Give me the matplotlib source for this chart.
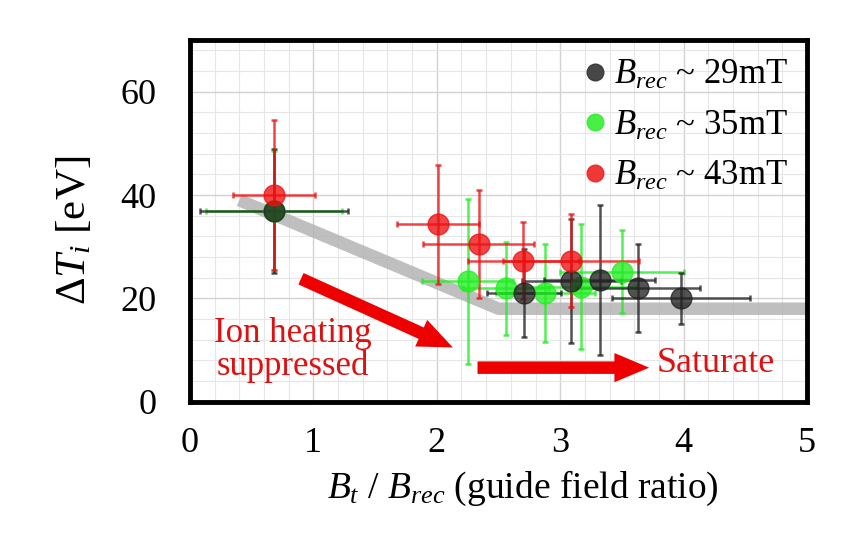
import numpy as np
import matplotlib
matplotlib.use("Agg")
import matplotlib.pyplot as plt
from matplotlib.ticker import MultipleLocator

plt.rcParams['font.family'] = ['Liberation Serif', 'DejaVu Serif']
plt.rcParams['mathtext.fontset'] = 'custom'
plt.rcParams['mathtext.rm'] = 'Liberation Serif'
plt.rcParams['mathtext.it'] = 'Liberation Serif:italic'
plt.rcParams['mathtext.bf'] = 'Liberation Serif:bold'

# data
black_x = [0.68, 2.71, 3.09, 3.32, 3.63, 3.98]
black_y = [37.0, 21.0, 23.3, 23.6, 22.0, 20.0]
black_xerr = [0.60, 0.30, 0.40, 0.45, 0.50, 0.56]
black_yerr = [12.0, 8.5, 12.0, 14.5, 8.5, 5.0]

green_x = [0.68, 2.25, 2.56, 2.88, 3.17, 3.50]
green_y = [37.0, 23.3, 22.0, 21.0, 22.3, 25.2]
green_xerr = [0.55, 0.37, 0.35, 0.40, 0.45, 0.50]
green_yerr = [11.5, 16.0, 9.0, 9.5, 12.0, 8.0]

red_x = [0.68, 2.01, 2.34, 2.70, 3.09]
red_y = [40.0, 34.3, 30.5, 27.3, 27.3]
red_xerr = [0.33, 0.33, 0.45, 0.45, 0.55]
red_yerr = [14.5, 11.5, 10.4, 7.5, 9.0]

labels = [r'$B_{rec}$ ~ 29mT', r'$B_{rec}$ ~ 35mT', r'$B_{rec}$ ~ 43mT']

trend_x = [0.4, 2.5, 5.0]
trend_y = [39.0, 18.0, 18.0]

fig = plt.figure(figsize=(8.67, 5.4), dpi=100)
ax = fig.add_axes([0.219, 0.256, 0.712, 0.670])
ax.set_xlim(0, 5)
ax.set_ylim(0, 70)

# grid
ax.xaxis.set_major_locator(MultipleLocator(1))
ax.yaxis.set_major_locator(MultipleLocator(20))
ax.xaxis.set_minor_locator(MultipleLocator(0.2))
ax.yaxis.set_minor_locator(MultipleLocator(4))
ax.grid(which='minor', color='#e6e6e6', lw=0.8)
ax.grid(which='major', color='#d2d2d2', lw=1.0)
ax.set_axisbelow(True)
ax.tick_params(which='both', length=0, labelsize=26)
ax.tick_params(axis='y', pad=24)
ax.tick_params(axis='x', pad=18)

# trend line
ax.plot(trend_x, trend_y, color='#b4b4b4', lw=9, alpha=0.85,
        solid_capstyle='butt', solid_joinstyle='round', zorder=1)

ekw = dict(fmt='o', ms=15, elinewidth=1.8, capsize=2.5, capthick=1.8,
           alpha=0.78, zorder=3)
ax.errorbar(green_x, green_y, xerr=green_xerr, yerr=green_yerr,
            color='#22ee22', **ekw)
ax.errorbar(black_x, black_y, xerr=black_xerr, yerr=black_yerr,
            color='#222222', **ekw)
ax.errorbar(red_x, red_y, xerr=red_xerr, yerr=red_yerr,
            color='#ee1111', **ekw)

# legend
for c, lab in zip(['#333333', '#33ee33', '#ee2222'], labels):
    ax.plot([], [], 'o', ms=12, color=c, alpha=0.9, label=lab)
ax.legend(loc='upper right', frameon=False, fontsize=25, handlelength=0.5,
          handletextpad=0.3, labelspacing=0.5, borderaxespad=0.35,
          borderpad=0.2)

# arrows and annotations
astyle = 'simple,head_width=1.05,head_length=1.25,tail_width=0.45'
ax.annotate('', xy=(2.13, 10.5), xytext=(0.9, 23.8),
            arrowprops=dict(arrowstyle=astyle, color='#ee0000', lw=0,
                            mutation_scale=20, shrinkA=0, shrinkB=0))
ax.annotate('', xy=(3.72, 6.6), xytext=(2.33, 6.6),
            arrowprops=dict(arrowstyle=astyle, color='#ee0000', lw=0,
                            mutation_scale=20, shrinkA=0, shrinkB=0))
ax.text(0.83, 10.0, 'Ion heating\nsuppressed', color='#dd1111', fontsize=25,
        ha='center', va='center', linespacing=0.95)
ax.text(4.26, 7.4, 'Saturate', color='#dd1111', fontsize=26,
        ha='center', va='center')

for s in ax.spines.values():
    s.set_linewidth(3.5)

ax.set_xlabel(r'$B_t$ / $B_{rec}$ (guide field ratio)', fontsize=27)
ax.xaxis.set_label_coords(0.54, -0.185)
ax.set_ylabel(r'$\mathit{\Delta T_i}$ [eV]', fontsize=31)
ax.yaxis.set_label_coords(-0.155, 0.475)

fig.savefig('out.png', dpi=100)
